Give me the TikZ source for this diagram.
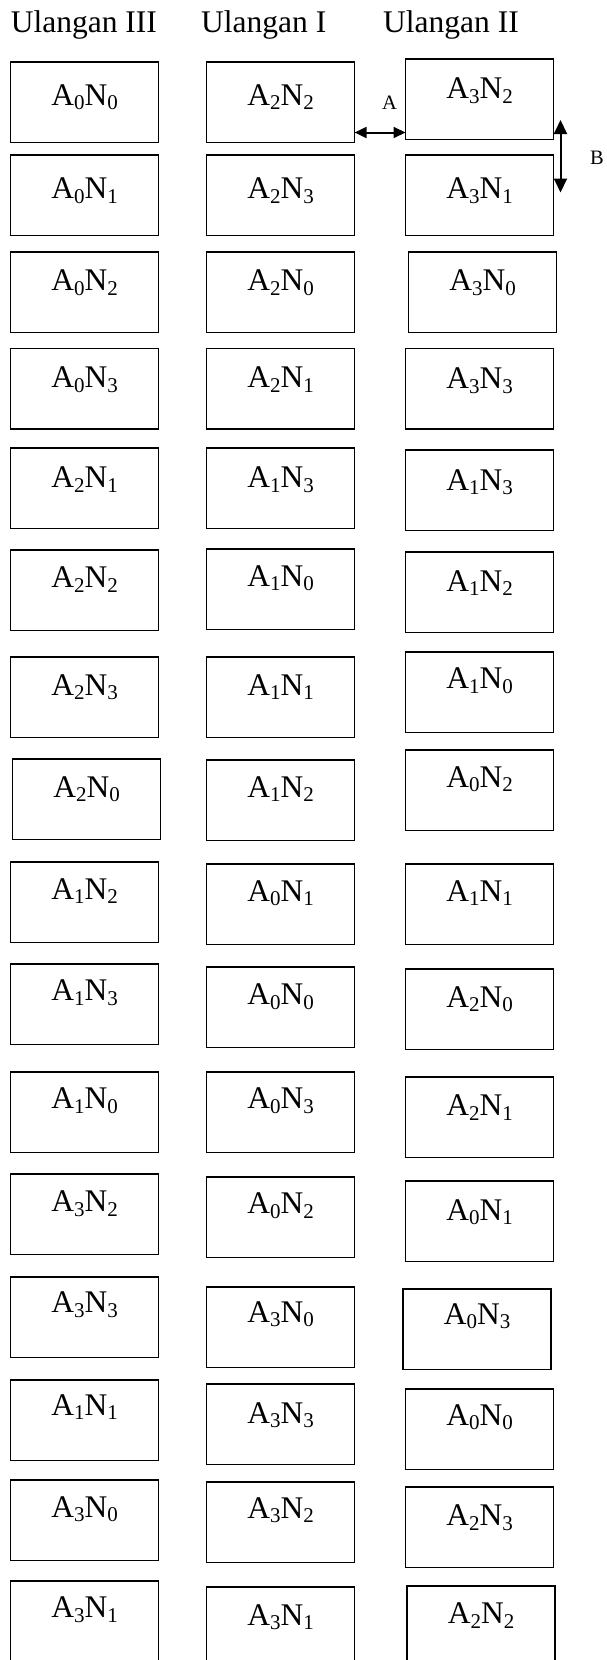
\documentclass[tikz,border=0pt]{standalone}
\usepackage{fontspec}
\setmainfont{Liberation Serif}
\usetikzlibrary{arrows.meta}
\newcommand\sbs[1]{\raisebox{-4.5pt}{\fontsize{21pt}{21pt}\selectfont #1}}
\newcommand\bx[6]{%
  \pgfmathsetmacro\dep{80.5-#4}%
  \node[cell, text height=#4pt, text depth=\dep pt, anchor=north west] (#1) at (#2,#3) {A\sbs{#5}N\sbs{#6}};}
\tikzset{
  cell/.style={draw, line width=1.7pt, inner sep=0pt, outer sep=0pt, text width=148pt, align=center,
    font=\fontsize{31.5pt}{31.5pt}\selectfont},
  head/.style={anchor=base west, inner sep=0pt, font=\fontsize{31.5pt}{31.5pt}\selectfont},
  tag/.style={anchor=base, inner sep=0pt, font=\fontsize{20.5pt}{20.5pt}\selectfont},
  dbl/.style={line width=2pt, {Triangle[length=12pt,width=11pt]}-{Triangle[length=12pt,width=11pt]}},
  dblv/.style={line width=2pt, {Triangle[length=14pt,width=13pt]}-{Triangle[length=14pt,width=13pt]}}
}
\begin{document}
\begin{tikzpicture}[x=1pt,y=-1pt]
\useasboundingbox (0,0) rectangle (607,1660);
\node[head] (h3) at (10.7,32) {Ulangan III};
\node[head] (h1) at (201,32) {Ulangan I};
\node[head] (h2) at (383,32) {Ulangan II};
% row 1
\bx{r1a}{10.6}{62}{43}{0}{0}
\bx{r1b}{206.6}{62}{43}{2}{2}
\bx{r1c}{405.5}{59}{39.7}{3}{2}
% row 2
\bx{r2a}{10.6}{155}{43.7}{0}{1}
\bx{r2b}{206.6}{155}{43.7}{2}{3}
\bx{r2c}{405.5}{155}{43.7}{3}{1}
% row 3
\bx{r3a}{10.6}{252}{38.6}{0}{2}
\bx{r3b}{206.6}{252}{38.6}{2}{0}
\bx{r3c}{408.5}{252}{38.6}{3}{0}
% row 4
\bx{r4a}{10.6}{348.5}{39.4}{0}{3}
\bx{r4b}{206.6}{348.5}{39.4}{2}{1}
\bx{r4c}{405.5}{348.5}{40}{3}{3}
% row 5
\bx{r5a}{10.6}{448}{39.7}{2}{1}
\bx{r5b}{206.6}{448}{39.7}{1}{3}
\bx{r5c}{405.5}{450}{40}{1}{3}
% row 6
\bx{r6a}{10.6}{550}{37.7}{2}{2}
\bx{r6b}{206.6}{549}{37.3}{1}{0}
\bx{r6c}{405.5}{552}{39}{1}{2}
% row 7
\bx{r7a}{10.6}{657}{38.3}{2}{3}
\bx{r7b}{206.6}{657}{38.3}{1}{1}
\bx{r7c}{405.5}{652}{36.7}{1}{0}
% row 8
\bx{r8a}{12.6}{759}{38}{2}{0}
\bx{r8b}{206.6}{760}{37}{1}{2}
\bx{r8c}{405.5}{750}{37}{0}{2}
% row 9
\bx{r9a}{10.6}{862}{37}{1}{2}
\bx{r9b}{206.6}{864}{37.3}{0}{1}
\bx{r9c}{405.5}{864}{37.3}{1}{1}
% row 10
\bx{r10a}{10.6}{964}{36.7}{1}{3}
\bx{r10b}{206.6}{967}{37.6}{0}{0}
\bx{r10c}{405.5}{969}{38}{2}{0}
% row 11
\bx{r11a}{10.6}{1072}{36.7}{1}{0}
\bx{r11b}{206.6}{1072}{36.7}{0}{3}
\bx{r11c}{405.5}{1077}{38.6}{2}{1}
% row 12
\bx{r12a}{10.6}{1174}{37.7}{3}{2}
\bx{r12b}{206.6}{1177}{36.7}{0}{2}
\bx{r12c}{405.5}{1181}{39.3}{0}{1}
% row 13
\bx{r13a}{10.6}{1277}{35.7}{3}{3}
\bx{r13b}{206.6}{1287}{35.3}{3}{0}
\bx{r13c}{403}{1289}{35.3}{0}{3}
% row 14
\bx{r14a}{10.6}{1380}{35.3}{1}{1}
\bx{r14b}{206.6}{1384}{39.4}{3}{3}
\bx{r14c}{405.5}{1389}{36.3}{0}{0}
% row 15
\bx{r15a}{10.6}{1480}{37}{3}{0}
\bx{r15b}{206.6}{1482}{36.4}{3}{2}
\bx{r15c}{405.5}{1487}{38.6}{2}{3}
% row 16
\bx{r16a}{10.6}{1581}{36.7}{3}{1}
\bx{r16b}{206.6}{1587}{38}{3}{1}
\bx{r16c}{407}{1586}{37.7}{2}{2}
% arrow A
\coordinate (aL) at ([yshift=10pt]r1b.south east);
\draw[dbl] (aL) -- (aL -| r1c.west);
\node[tag] (la) at (389.5,109.3) {A};
% arrow B
\coordinate (bT) at ([xshift=7pt,yshift=19.5pt]r1c.south east);
\coordinate (bB) at ([xshift=7pt,yshift=43pt]r2c.south east);
\draw[dblv] (bT) -- (bB);
\node[tag] (lb) at (597,164) {B};
\end{tikzpicture}
\end{document}
